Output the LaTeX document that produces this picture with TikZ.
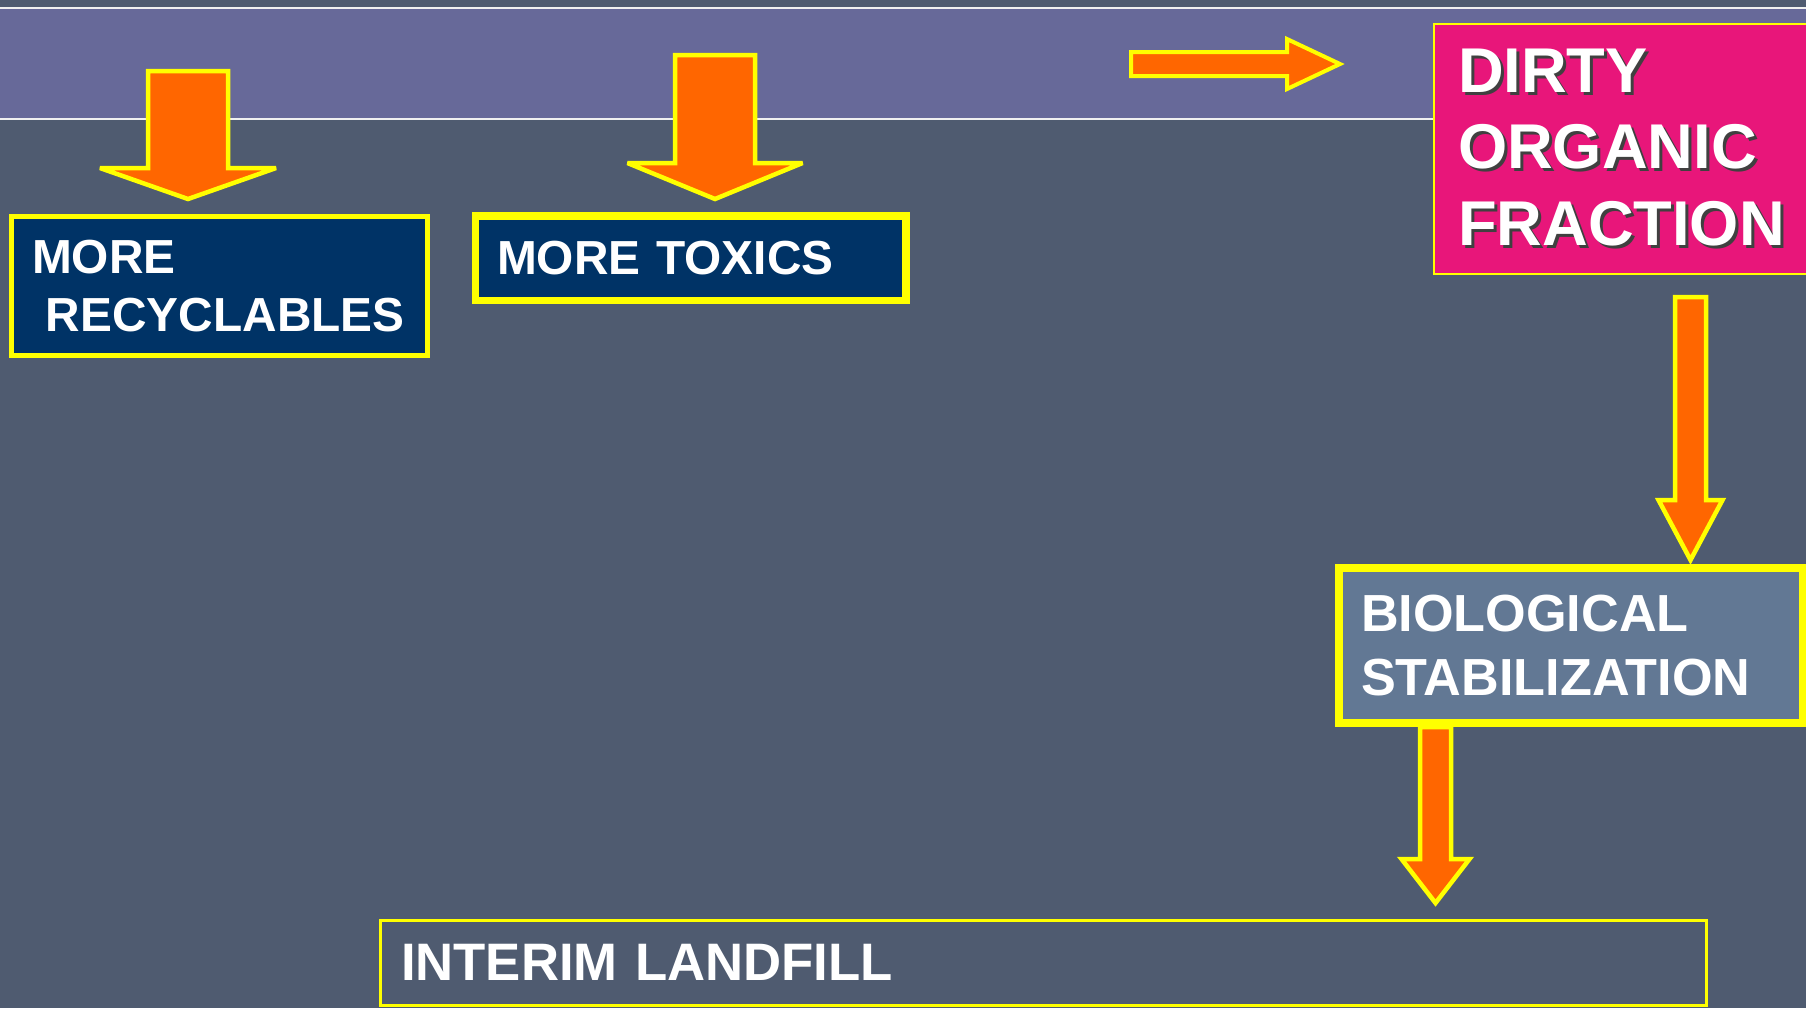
\documentclass[tikz,border=0pt]{standalone}
\usepackage{fontspec}
\setmainfont{Liberation Sans}
\usetikzlibrary{calc}

\definecolor{slatebg}{RGB}{79,91,112}
\definecolor{bandpurple}{RGB}{103,105,153}
\definecolor{navybox}{RGB}{0,51,102}
\definecolor{pinkbox}{RGB}{232,22,122}
\definecolor{steelbox}{RGB}{98,120,148}
\definecolor{arroworange}{RGB}{255,102,0}
\definecolor{edgeyellow}{RGB}{255,255,0}

\newcommand\shadowed[1]{\leavevmode\rlap{\hspace{0.3mm}\raisebox{-0.3mm}{\color{black!75}#1}}#1}

\tikzset{
  box/.style={draw=edgeyellow, anchor=north west, outer sep=0pt, inner ysep=0pt,
    text=white, align=left},
  blockarrow/.style={fill=arroworange, draw=edgeyellow, line width=0.45mm,
    line join=miter, miter limit=4},
}

\begin{document}
\begin{tikzpicture}[x=0.1mm,y=-0.1mm]
    \useasboundingbox (0,0) rectangle (1806,1008);
    \fill[slatebg] (0,0) rectangle (1806,1008);
    \fill[bandpurple] (0,8) rectangle (1806,119);
    \draw[white!88!gray,line width=0.25mm] (0,8) -- (1806,8) (0,119) -- (1806,119);

    % boxes
    \node[box,fill=navybox,line width=0.5mm,minimum width=41.6mm,minimum height=13.95mm,
      inner xsep=2.05mm,text width=37.5mm,font={\bfseries\fontsize{13.6}{16.6}\selectfont}]
      (rec) at (11.5,216) {MORE\\\hspace*{1.4mm}\mbox{RECYCLABLES}};
    \node[box,fill=navybox,line width=0.75mm,minimum width=43.05mm,minimum height=8.45mm,
      inner xsep=2.15mm,text width=38.75mm,font={\bfseries\fontsize{13.6}{16.6}\selectfont}]
      (tox) at (475.5,216) {MORE TOXICS};
    \node[box,fill=pinkbox,line width=0.2mm,minimum width=38.6mm,minimum height=25mm,
      inner xsep=2.4mm,text width=33.8mm,font={\bfseries\fontsize{18}{21.8}\selectfont}]
      (dirty) at (1434,24) {\shadowed{DIRTY}\\\shadowed{ORGANIC}\\\shadowed{FRACTION}};
    \node[box,fill=steelbox,line width=0.8mm,minimum width=46.4mm,minimum height=15.5mm,
      inner xsep=2.2mm,text width=42mm,font={\bfseries\fontsize{14.85}{18.3}\selectfont}]
      (bio) at (1339,568) {BIOLOGICAL\\STABILIZATION};
    \node[box,line width=0.3mm,minimum width=132.6mm,minimum height=8.5mm,
      inner xsep=2.1mm,text width=128.4mm,font={\bfseries\fontsize{15}{18}\selectfont}]
      (land) at (380,920) {INTERIM LANDFILL};

    % arrow ends
    \coordinate (a1s) at (188,71);
    \coordinate (a1e) at ($(a1s |- rec.north)+(0,-17)$);
    \coordinate (a2s) at (715,55);
    \coordinate (a2e) at ($(a2s |- tox.north)+(0,-17)$);
    \coordinate (a4s) at (1690.5,297);
    \coordinate (a4e) at ($(a4s |- bio.north)+(0,-8)$);
    \coordinate (a5s) at ($(bio.south west)+(96.5,4)$);
    \coordinate (a5e) at ($(a5s |- land.north)+(0,-17)$);

    \foreach \s/\e/\sw/\hw/\hl in {a1s/a1e/40/88/31, a2s/a2e/40/87.5/36, a4s/a4e/15.5/32/60, a5s/a5e/15.5/34/44} {
      \draw[blockarrow] ($(\s)+(-\sw,0)$) -- ($(\s)+(\sw,0)$) -- ($(\e)+(\sw,-\hl)$)
        -- ($(\e)+(\hw,-\hl)$) -- (\e) -- ($(\e)+(-\hw,-\hl)$) -- ($(\e)+(-\sw,-\hl)$) -- cycle;
    }

    \coordinate (a3s) at (1131,64);
    \coordinate (a3e) at ($(a3s -| dirty.west)+(-94,0)$);
    \draw[blockarrow,line width=0.4mm] ($(a3s)+(0,-12)$) -- ($(a3e)+(-53,-12)$) -- ($(a3e)+(-53,-25)$)
      -- (a3e) -- ($(a3e)+(-53,25)$) -- ($(a3e)+(-53,12)$) -- ($(a3s)+(0,12)$) -- cycle;

  \end{tikzpicture}
\end{document}
